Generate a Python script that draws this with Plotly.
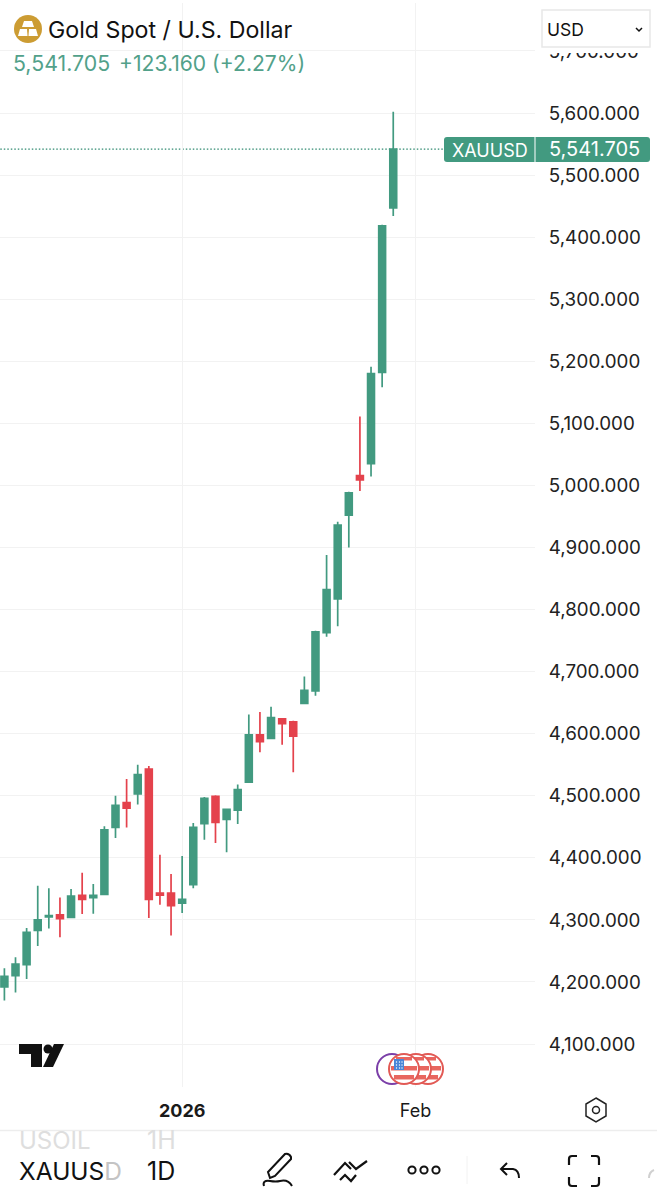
import math
import plotly.graph_objects as go

# daily candles, oldest first
open_ = [4192, 4210, 4228, 4283, 4305, 4308, 4304, 4339.5, 4336, 4341, 4449, 4489, 4503, 4543, 4343, 4343, 4327, 4357,
         4455, 4499, 4462, 4477, 4522, 4598, 4592.5, 4624, 4619, 4649, 4669, 4763, 4817, 4952, 5016, 5035, 5182, 5447]
high = [4222, 4240, 4287, 4355, 4351, 4336, 4350, 4376, 4358, 4451, 4500, 4527, 4550, 4548, 4405, 4374, 4403, 4456,
        4498, 4501, 4479, 4518, 4631, 4635, 4643.5, 4625, 4621, 4692, 4766, 4888, 4941.5, 4990, 5111, 5191, 5420, 5602]
low = [4170, 4183, 4205, 4258, 4286, 4272, 4303, 4309.5, 4310, 4341, 4432, 4449, 4486, 4303, 4324.5, 4275, 4311, 4351,
       4429, 4424, 4409, 4454.5, 4521, 4570, 4592, 4582, 4538, 4648, 4661, 4756, 4773, 4900, 4991, 5014.5, 5158, 5434]
close = [4209, 4229, 4280, 4300, 4307, 4302, 4338.5, 4333, 4339.5, 4445, 4484.5, 4480, 4534, 4333, 4340, 4323, 4333, 4449,
         4496, 4457, 4478, 4510, 4598, 4587, 4626, 4616, 4596, 4670, 4764, 4832, 4936, 4988, 5009, 5180, 5418, 5541.705]
days = list(range(len(open_)))

price_ticks = [4100, 4200, 4300, 4400, 4500, 4600, 4700, 4800, 4900, 5000, 5100, 5200, 5300, 5400, 5500, 5600, 5700]
date_ticks = [16, 37]
date_labels = ["<b>2026</b>", "Feb"]
last_price = 5541.705

GREEN = "#429A80"
RED = "#E4424C"
GRID = "#F2F2F2"
INK = "#1A1A1A"
FONT = "Inter, Roboto, sans-serif"

W, H = 657, 1200
PLOT_R, PLOT_B = 535, 1087

# pixel calibration of the chart
step = 11.11
x0 = 4.4
per_px = 1 / 0.6207


def p_at(y):
    return 5600 - (y - 113) * per_px


fig = go.Figure()
fig.add_trace(go.Candlestick(x=days, open=open_, high=high, low=low, close=close,
                             increasing=dict(line=dict(color=GREEN, width=1.7), fillcolor=GREEN),
                             decreasing=dict(line=dict(color=RED, width=1.7), fillcolor=RED),
                             showlegend=False, hoverinfo="skip"))
# second pair of axes in screen pixels, for the interface bits around the chart
fig.add_trace(go.Scatter(x=[0], y=[0], xaxis="x2", yaxis="y2", mode="none", showlegend=False, hoverinfo="skip"))

shapes = []
notes = []


def rect(x1, y1, x2, y2, fill, line=None, lw=0):
    shapes.append(dict(type="rect", xref="x2", yref="y2", x0=x1, y0=y1, x1=x2, y1=y2, fillcolor=fill,
                       line=dict(color=line or fill, width=lw)))


def circle(cx, cy, r, fill, line=None, lw=0):
    shapes.append(dict(type="circle", xref="x2", yref="y2", x0=cx - r, y0=cy - r, x1=cx + r, y1=cy + r,
                       fillcolor=fill, line=dict(color=line or fill, width=lw)))


def path(d, color=INK, lw=2, fill="rgba(0,0,0,0)"):
    shapes.append(dict(type="path", xref="x2", yref="y2", path=d, fillcolor=fill, line=dict(color=color, width=lw)))


def text(x, y, s, size, color=INK, anchor="left"):
    notes.append(dict(xref="x2", yref="y2", x=x, y=y, text=s, showarrow=False, xanchor=anchor, yanchor="middle",
                      font=dict(family=FONT, size=size, color=color), borderpad=0, borderwidth=0))


# last price line and its labels
shapes.append(dict(type="line", xref="x", yref="y", x0=-1, x1=(444 - x0) / step, y0=last_price, y1=last_price,
                   line=dict(color="#2F8A70", width=1.3, dash="1.5px,2px"), layer="below"))
path("M 447 137 L 647 137 Q 650 137 650 140 L 650 159 Q 650 162 647 162 L 447 162 Q 444 162 444 159 "
     "L 444 140 Q 444 137 447 137 Z", GREEN, 0, GREEN)
rect(534.5, 137, 535.5, 162, "#FFFFFF")
text(490, 150, "XAUUSD", 18, "#FFFFFF", "center")
text(594, 149, "5,541.705", 20, "#FFFFFF", "center")

# header
rect(535, 0, 657, 53, "#FFFFFF")
circle(28, 29, 14, "#CC9C33")
path("M 24 21 L 32 21 L 34 27 L 22 27 Z", "#FFFFFF", 0, "#FFFFFF")
path("M 18 36 L 20 29 L 27 29 L 27.5 36 Z", "#FFFFFF", 0, "#FFFFFF")
path("M 38 36 L 36 29 L 29 29 L 28.5 36 Z", "#FFFFFF", 0, "#FFFFFF")
text(48, 30, "Gold Spot / U.S. Dollar", 23.2, "#111111")
text(13, 63, "5,541.705", 21.3, "#52A18A")
text(119, 63, "+123.160 (+2.27%)", 21.1, "#52A18A")
shapes.append(dict(type="rect", xref="x2", yref="y2", x0=542, y0=10, x1=650, y1=47, fillcolor="#FFFFFF",
                   line=dict(color="#E8E8E8", width=1.5)))
text(547, 29, "USD", 17.5, "#111111")
path("M 636 28 L 639 31 L 642 28", "#111111", 1.5)

# TradingView mark
path("M 19 1044 L 42 1044 L 42 1067 L 31 1067 L 31 1054 L 19 1054 Z", "#111111", 0, "#111111")
circle(48, 1049, 4.5, "#111111")
path("M 54 1044 L 64 1044 L 53 1067 L 43 1067 Z", "#111111", 0, "#111111")

# event markers
circle(392, 1069, 15, "#FFFFFF", "#7B3FA8", 2)
for cx in [428, 416, 404]:
    circle(cx, 1069, 15, "#FFFFFF", "#E25A55", 2)
    for sy, sh in [(1057, 3.5), (1066, 4.5), (1075, 4.5)]:
        half = math.sqrt(max(0, 13 ** 2 - (sy + sh / 2 - 1069) ** 2))
        rect(cx - half, sy, cx + half, sy + sh, "#E8665F")
rect(394, 1059, 404, 1070, "#4A86D8")
for dx in [396.5, 399.5, 402]:
    for dy in [1062, 1065, 1068]:
        circle(dx, dy, 0.7, "#FFFFFF")

# time axis and settings icon
path("M 596 1098 L 606 1104 L 606 1116 L 596 1122 L 586 1116 L 586 1104 Z", "#222222", 1.5)
circle(596, 1110, 3.5, "#FFFFFF", "#222222", 1.5)
shapes.append(dict(type="line", xref="x2", yref="y2", x0=0, x1=W, y0=1130.5, y1=1130.5,
                   line=dict(color="#EDEDED", width=1.5)))

# bottom toolbar
text(19, 1140, "USOIL", 24, "#DEDEDE")
text(147, 1140, "1H", 25, "#DEDEDE")
text(19, 1171, "XAUUS<span style='color:#C4C4C4'>D</span>", 24.5, "#111111")
text(147, 1171, "1D", 25, "#111111")
text(19, 1207, "BTCUSD", 24, "#DEDEDE")
text(147, 1207, "1W", 25, "#DEDEDE")
path("M 270 1178 L 268 1172 L 285 1154 Q 289 1153 291 1157 L 291 1159 L 275 1176 Z M 264 1186 Q 262 1180 270 1181 "
     "Q 276 1182 280 1181 Q 288 1179 292 1186", "#111111", 2)
path("M 334 1175 L 345 1163 L 351 1169 M 340 1180 L 345 1175 L 351 1181 L 356 1175 M 349 1162 L 356 1169 L 367 1161",
     "#111111", 2.2)
for cx in [412, 424, 436]:
    circle(cx, 1170, 3.6, "#FFFFFF", "#111111", 2)
shapes.append(dict(type="line", xref="x2", yref="y2", x0=467, x1=467, y0=1156, y1=1184,
                   line=dict(color="#F2F2F2", width=1)))
path("M 507 1163 L 501 1169 L 507 1175 M 501 1169 L 513 1169 Q 519 1170 519 1178", "#111111", 2)
path("M 569 1165 L 569 1159 Q 569 1156 572 1156 L 577 1156 M 591 1156 L 596 1156 Q 599 1156 599 1159 L 599 1165 "
     "M 599 1177 L 599 1183 Q 599 1186 596 1186 L 591 1186 M 577 1186 L 572 1186 Q 569 1186 569 1183 L 569 1177",
     "#111111", 2.2)
path("M 649 1178 Q 649 1172 654 1170", "#D0D0D0", 2)

fig.update_layout(
    width=W, height=H, autosize=False, margin=dict(l=0, r=0, t=0, b=0),
    paper_bgcolor="#FFFFFF", plot_bgcolor="rgba(0,0,0,0)", showlegend=False, boxgap=0.12,
    shapes=shapes, annotations=notes, font=dict(family=FONT, color=INK),
    xaxis=dict(domain=[0, PLOT_R / W], range=[-x0 / step, (PLOT_R - x0) / step], rangeslider=dict(visible=False),
               tickmode="array", tickvals=date_ticks, ticktext=date_labels, ticks="outside", ticklen=7,
               tickcolor="rgba(0,0,0,0)", tickfont=dict(size=18, color=INK), showgrid=True, gridcolor=GRID,
               gridwidth=1, zeroline=False, showline=False, anchor="y", fixedrange=True),
    yaxis=dict(domain=[1 - PLOT_B / H, 1 - 3 / H], range=[p_at(PLOT_B), p_at(3)], side="right", tickmode="array",
               tickvals=price_ticks, tickformat=",.3f", ticks="outside", ticklen=9, tickcolor="rgba(0,0,0,0)",
               tickfont=dict(size=18.8, color="#222222"), showgrid=True, gridcolor=GRID, gridwidth=1,
               zeroline=False, showline=False, anchor="x", fixedrange=True),
    xaxis2=dict(domain=[0, 1], range=[0, W], visible=False, anchor="y2", fixedrange=True),
    yaxis2=dict(domain=[0, 1], range=[H, 0], visible=False, anchor="x2", fixedrange=True),
)

fig.write_html("out.html", config=dict(displayModeBar=False), post_script="document.body.style.margin='0';")
